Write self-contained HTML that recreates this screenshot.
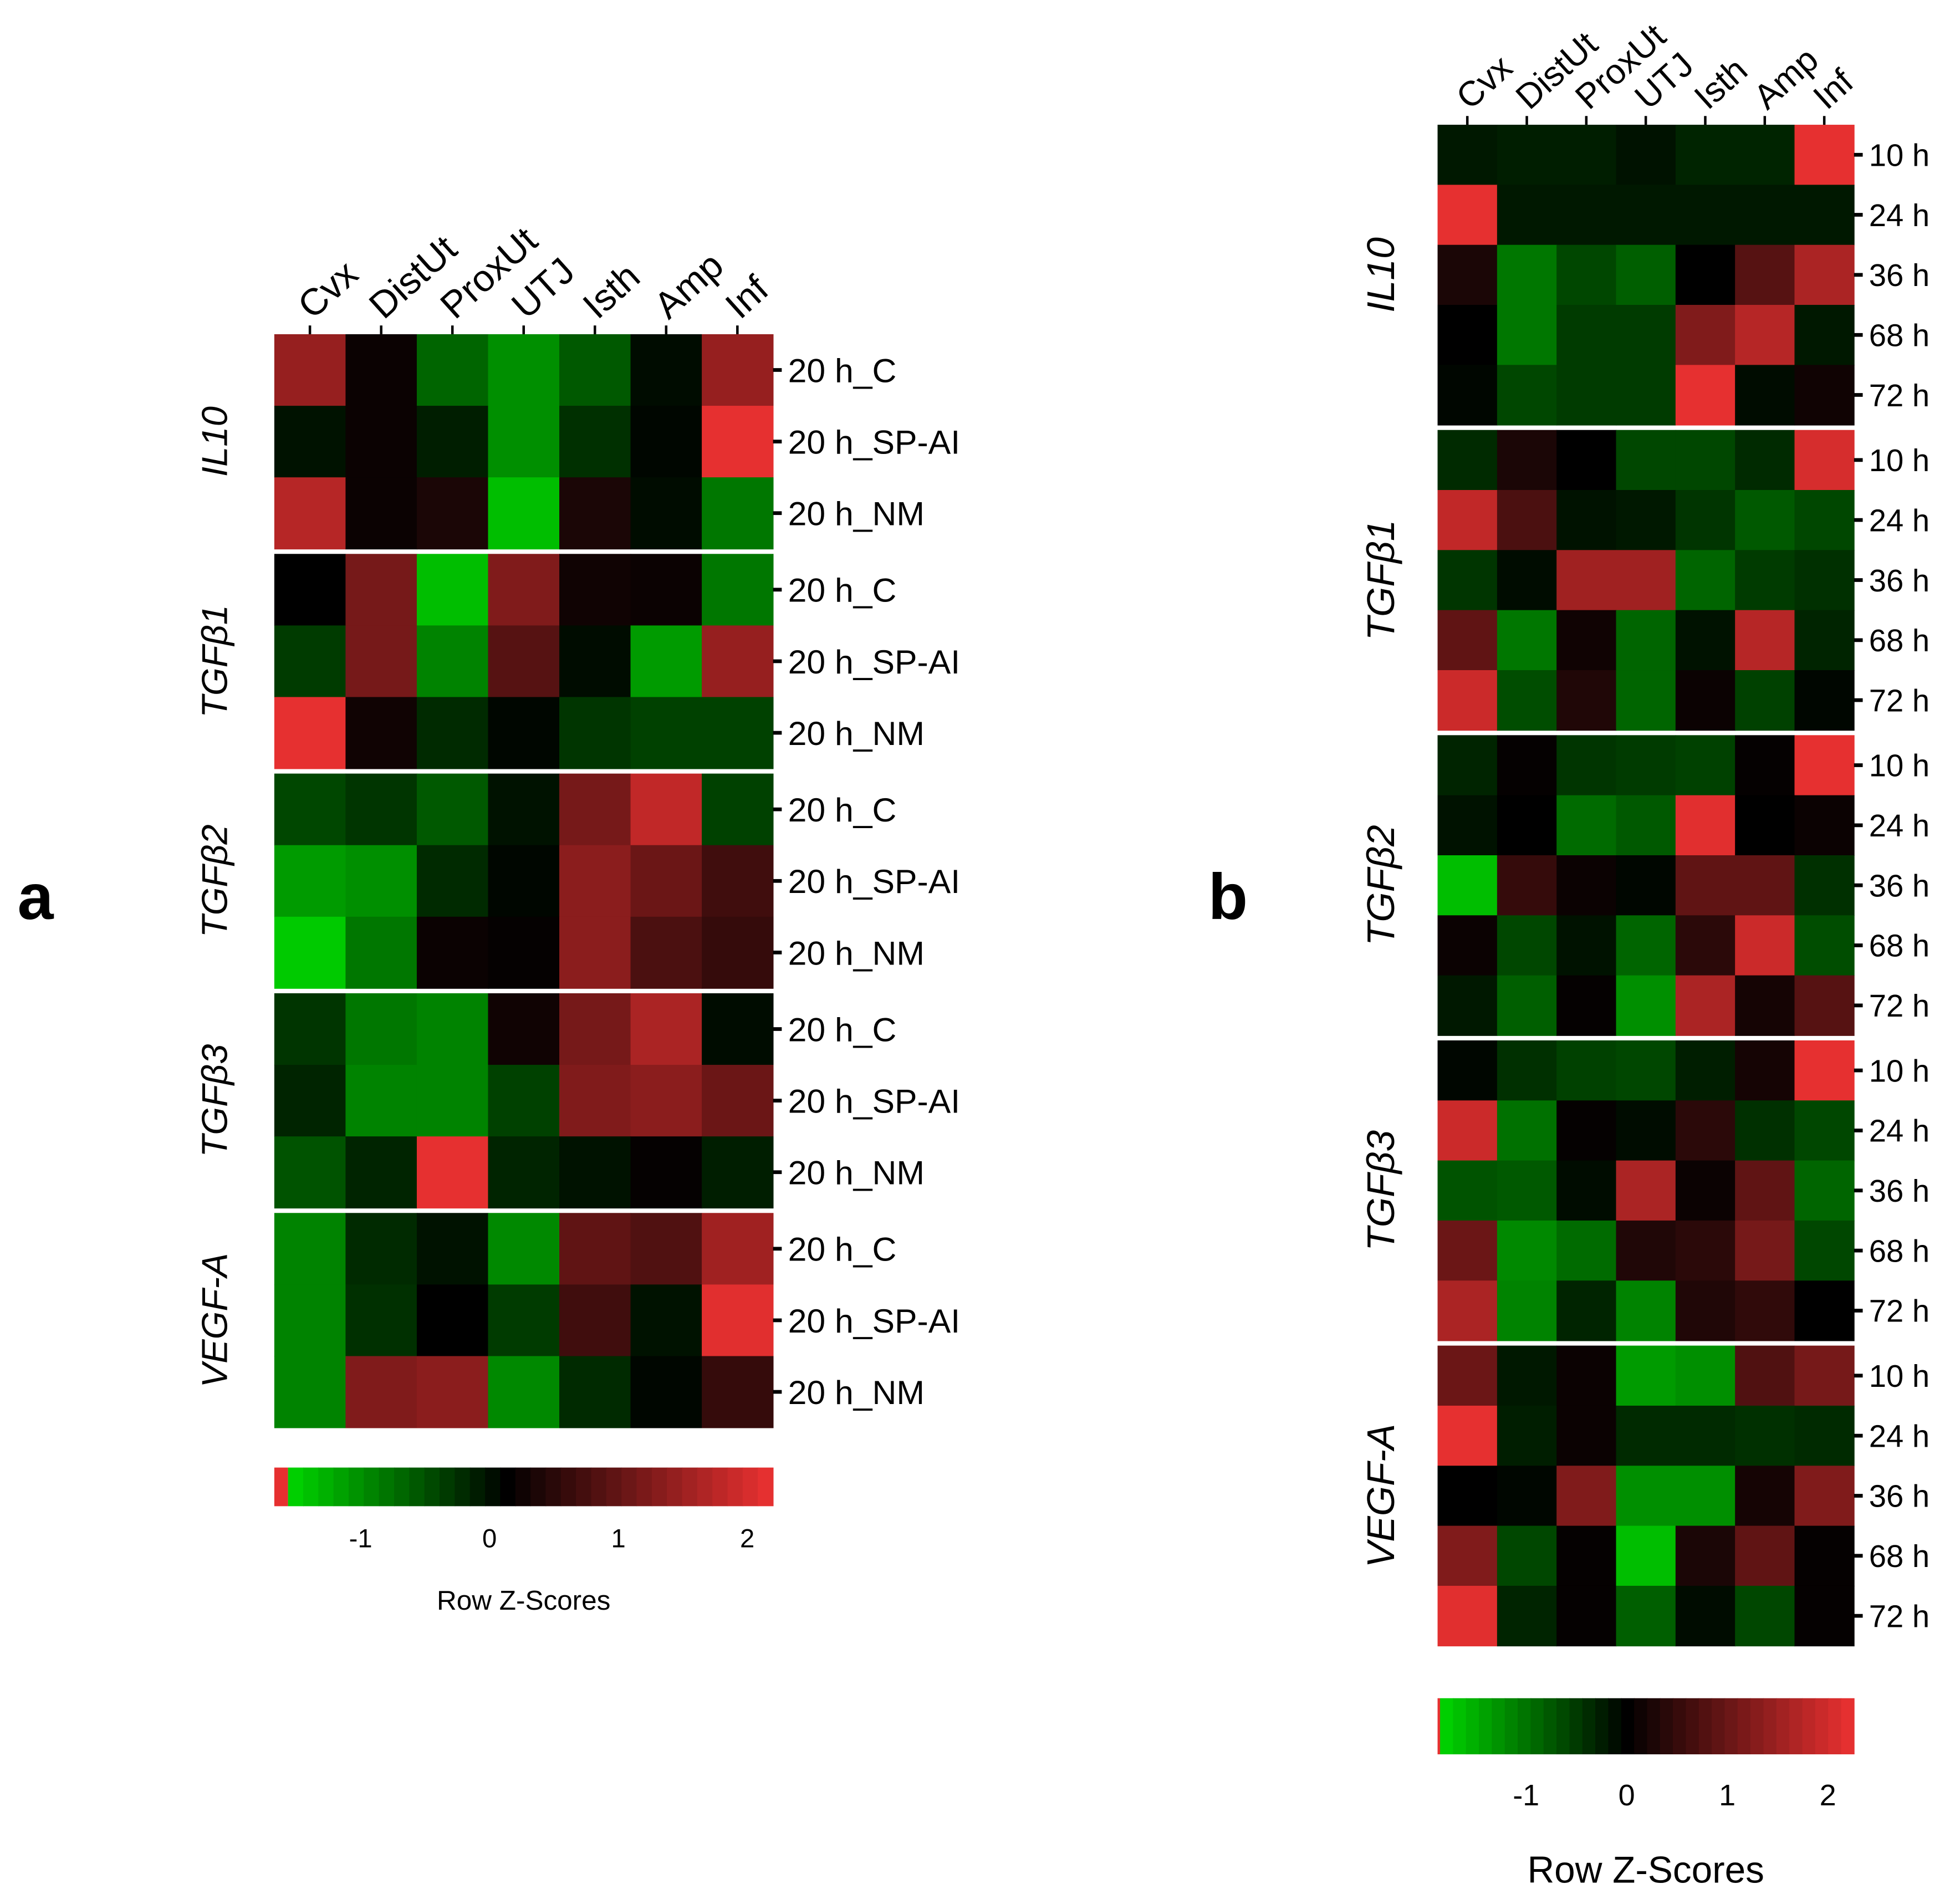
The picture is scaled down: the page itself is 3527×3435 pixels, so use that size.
<!DOCTYPE html>
<html><head><meta charset="utf-8">
<style>
html,body{margin:0;padding:0;background:#fff;}
svg{display:block;}
text{font-family:"Liberation Sans",sans-serif;fill:#000;}
</style></head>
<body>
<svg id="fig" xmlns="http://www.w3.org/2000/svg" width="3527" height="3435" viewBox="0 0 1568 1527">
<rect x="0" y="0" width="1568" height="1527" fill="#fff"/>
<g id="pa"></g>
<g id="pb"></g>
<text x="14" y="737" font-size="52" font-weight="bold">a</text>
<text x="969" y="737" font-size="52" font-weight="bold">b</text>
</svg>
<script>
const columns = ["Cvx","DistUt","ProxUt","UTJ","Isth","Amp","Inf"];
const genes = ["IL10","TGFβ1","TGFβ2","TGFβ3","VEGF-A"];
const rowsA = ["20 h_C","20 h_SP-AI","20 h_NM"];
const rowsB = ["10 h","24 h","36 h","68 h","72 h"];
const valuesA = [
 [1.4,0.1,-0.85,-1.2,-0.75,-0.1,1.4],
 [-0.15,0.1,-0.25,-1.2,-0.4,-0.05,2.2],
 [1.7,0.1,0.25,-1.6,0.25,-0.1,-1.0],
 [0,1.1,-1.6,1.2,0.15,0.1,-1.0],
 [-0.5,1.1,-1.1,0.8,-0.1,-1.3,1.4],
 [2.2,0.15,-0.35,-0.05,-0.45,-0.55,-0.55],
 [-0.6,-0.45,-0.75,-0.15,1.1,1.8,-0.55],
 [-1.3,-1.2,-0.35,-0.05,1.3,1.0,0.6],
 [-1.7,-1.0,0.1,0.05,1.3,0.7,0.5],
 [-0.45,-1.0,-1.1,0.15,1.1,1.6,-0.1],
 [-0.3,-1.1,-1.1,-0.55,1.2,1.3,1.0],
 [-0.7,-0.3,2.2,-0.3,-0.15,0.05,-0.25],
 [-1.1,-0.35,-0.15,-1.15,0.9,0.75,1.5],
 [-1.1,-0.4,0,-0.5,0.6,-0.15,2.1],
 [-1.1,1.2,1.3,-1.15,-0.35,-0.05,0.5]
];
const valuesB = [
 [-0.2,-0.25,-0.25,-0.15,-0.3,-0.3,2.2],
 [2.2,-0.2,-0.2,-0.2,-0.2,-0.2,-0.2],
 [0.25,-1.0,-0.6,-0.8,0.0,0.8,1.6],
 [0,-1.0,-0.5,-0.5,1.2,1.7,-0.2],
 [-0.05,-0.6,-0.5,-0.5,2.2,-0.1,0.15],
 [-0.35,0.25,0.0,-0.6,-0.6,-0.35,2.0],
 [1.8,0.7,-0.15,-0.2,-0.45,-0.75,-0.6],
 [-0.45,-0.1,1.5,1.5,-0.85,-0.5,-0.4],
 [0.9,-1.0,0.15,-0.85,-0.15,1.7,-0.3],
 [1.9,-0.65,0.3,-0.85,0.1,-0.55,-0.05],
 [-0.3,0.05,-0.45,-0.5,-0.55,0.05,2.2],
 [-0.15,0,-0.9,-0.75,2.1,0,0.1],
 [-1.6,0.5,0.1,-0.05,0.9,0.9,-0.4],
 [0.1,-0.6,-0.15,-0.85,0.4,1.9,-0.65],
 [-0.2,-0.8,0.05,-1.2,1.6,0.2,0.8],
 [-0.05,-0.4,-0.55,-0.6,-0.25,0.2,2.2],
 [1.9,-0.95,0.05,-0.1,0.4,-0.4,-0.6],
 [-0.7,-0.75,-0.1,1.6,0.1,0.9,-0.85],
 [1.0,-1.15,-0.9,0.3,0.4,1.1,-0.6],
 [1.6,-1.1,-0.3,-1.1,0.3,0.45,0.0],
 [1.0,-0.2,0.1,-1.3,-1.2,0.75,1.1],
 [2.2,-0.25,0.1,-0.35,-0.35,-0.4,-0.35],
 [0,-0.05,1.2,-1.2,-1.2,0.2,1.2],
 [1.2,-0.6,0.05,-1.6,0.25,0.9,0.05],
 [2.1,-0.3,0.05,-0.8,-0.1,-0.6,0.05]
];
const scaleTicks = [-1,0,1,2];
const scaleRangeA = [-1.67,2.2];
const scaleRangeB = [-1.88,2.26];

function color(z){
  if(z<0){const t=Math.min(1,-z/1.75);return `rgb(0,${Math.round(208*t)},0)`;}
  const t=Math.min(1,z/2.15);
  return `rgb(${Math.round(230*t)},${Math.round(48*t)},${Math.round(48*t)})`;
}
const NS="http://www.w3.org/2000/svg";
function mk(parent,tag,attrs,txt){
  const e=document.createElementNS(NS,tag);
  for(const k in attrs)e.setAttribute(k,attrs[k]);
  if(txt!==undefined)e.textContent=txt;
  parent.appendChild(e);return e;
}
function geneLabel(g,x,y,fs,name){
  const t=mk(g,'text',{x:x,y:y,'font-size':fs,'font-style':'italic','text-anchor':'middle',transform:`rotate(-90 ${x} ${y})`},name);
  
  
}
function drawPanel(g,cfg){
  const {x0,x1,y0,y1,rows,vals,gap,rowFs,geneX,geneFs,colFs,cb,cbTickFs,cbTitleFs,cbTitleY,cbTickY,range}=cfg;
  const [ZMIN,ZMAX]=range;
  const nC=columns.length, nG=genes.length, nR=rows.length;
  const cw=(x1-x0)/nC;
  const gh=(y1-y0)/nG;
  const rh=(gh-gap)/nR;
  const xs=c=>x0+c*cw;
  const ys=(gi,r)=>y0+gi*gh+r*rh;
  vals.forEach((row,i)=>{
    const gi=Math.floor(i/nR), r=i%nR;
    row.forEach((v,c)=>{
      const rc=mk(g,'rect',{x:xs(c),y:ys(gi,r),width:cw+0.4,height:rh+0.4,fill:color(v)});
      
      
    });
  });
  columns.forEach((c,i)=>{
    const cx=xs(i)+cw/2;
    mk(g,'line',{x1:cx,y1:y0-7,x2:cx,y2:y0,stroke:'#000','stroke-width':2});
    const t=mk(g,'text',{x:cx+2,y:y0-11,'font-size':colFs,transform:`rotate(-42 ${cx+2} ${y0-11})`},c);
    
    
  });
  genes.forEach((gn,gi)=>{
    rows.forEach((rn,r)=>{
      const cy=ys(gi,r)+rh/2;
      mk(g,'line',{x1:x1,y1:cy,x2:x1+7,y2:cy,stroke:'#000','stroke-width':3});
      const t=mk(g,'text',{x:x1+12,y:cy+rowFs*0.36,'font-size':rowFs},rn);
      
      
    });
    geneLabel(g,geneX,y0+gi*gh+(gh-gap)/2,geneFs,gn);
  });
  const steps=32;
  const cbx=z=>cb.x0+(z-ZMIN)/(ZMAX-ZMIN)*(cb.x1-cb.x0);
  mk(g,'rect',{x:cb.x0,y:cb.y0,width:cb.redw,height:cb.y1-cb.y0,fill:color(2.3)});
  const sw=(cb.x1-cb.x0-cb.redw)/steps;
  for(let s=0;s<steps;s++){
    const z=-1.8+(s+0.5)*(4.0)/steps;
    const r=mk(g,'rect',{x:cb.x0+cb.redw+s*sw,y:cb.y0,width:sw+0.4,height:cb.y1-cb.y0,fill:color(z)});
    
    
  }
  scaleTicks.forEach(v=>{
    const t=mk(g,'text',{x:cbx(v),y:cbTickY,'font-size':cbTickFs,'text-anchor':'middle'},String(v));
    
    
  });
  const tt=mk(g,'text',{x:(cb.x0+cb.x1)/2,y:cbTitleY,'font-size':cbTitleFs,'text-anchor':'middle'},'Row Z-Scores');
  
  
}
drawPanel(document.getElementById('pa'),{x0:220,x1:620,y0:268,y1:1149,rows:rowsA,vals:valuesA,gap:4,rowFs:27,geneX:182,geneFs:29,colFs:30,range:scaleRangeA,
  cb:{x0:220,x1:620,y0:1177,y1:1208,redw:11},cbTickFs:21,cbTickY:1241,cbTitleFs:22,cbTitleY:1291});
drawPanel(document.getElementById('pb'),{x0:1153,x1:1487,y0:100,y1:1324,rows:rowsB,vals:valuesB,gap:4,rowFs:25,geneX:1118,geneFs:31,colFs:28,range:scaleRangeB,
  cb:{x0:1153,x1:1487,y0:1362,y1:1407,redw:2},cbTickFs:24,cbTickY:1448,cbTitleFs:30,cbTitleY:1510});
</script>
</body></html>
